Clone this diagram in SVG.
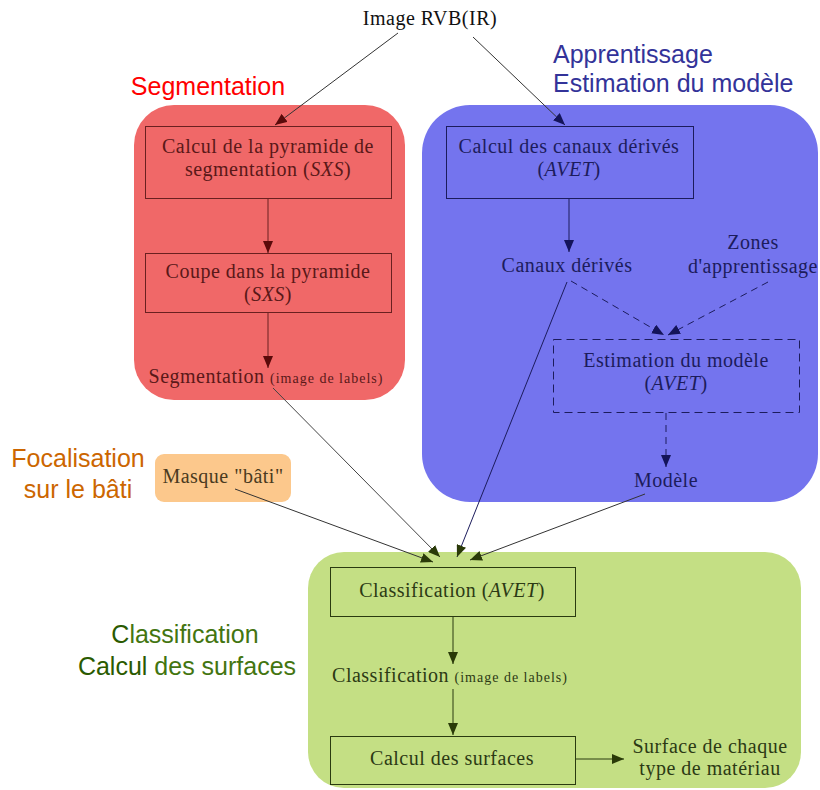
<svg xmlns="http://www.w3.org/2000/svg" width="820" height="790" viewBox="0 0 820 790">
<style>
.t{font-family:"Liberation Serif","Times New Roman",serif;font-size:20px;text-anchor:middle;letter-spacing:0.5px}
.s{font-size:14px;letter-spacing:1px}
.i{font-style:italic}
.h{font-family:"Liberation Sans",Arial,sans-serif;font-size:25px;text-anchor:middle}
.rt{fill:#5a1818}
.bt{fill:#1c1c5c}
.gt{fill:#2c3a14}
.ot{fill:#4a3a20}
.box{fill:none;stroke-width:1}
.ln{fill:none;stroke-width:1}
</style>
<defs>
<marker id="mr" markerUnits="userSpaceOnUse" markerWidth="12" markerHeight="10" refX="12" refY="5" orient="auto"><path d="M0,0 L12,5 L0,10 z" fill="#5a0a0a"/></marker>
<marker id="mb" markerUnits="userSpaceOnUse" markerWidth="12" markerHeight="10" refX="12" refY="5" orient="auto"><path d="M0,0 L12,5 L0,10 z" fill="#14145a"/></marker>
<marker id="mg" markerUnits="userSpaceOnUse" markerWidth="12" markerHeight="10" refX="12" refY="5" orient="auto"><path d="M0,0 L12,5 L0,10 z" fill="#2a3a08"/></marker>
</defs>
<rect width="820" height="790" fill="#ffffff"/>

<g id="region-segmentation">
<rect x="134" y="105" width="271" height="295" rx="40" fill="#f06868"/>
<text class="h" x="208" y="95" fill="#ff0000">Segmentation</text>
</g>
<g id="region-apprentissage">
<rect x="422" y="105" width="396" height="397" rx="48" fill="#7474ee"/>
<text class="h" x="553" y="63" fill="#333399" style="text-anchor:start">Apprentissage</text>
<text class="h" x="553" y="92" fill="#333399" style="text-anchor:start">Estimation du modèle</text>
</g>
<g id="region-focalisation">
<rect x="155" y="454" width="136" height="48" rx="9" fill="#fcc88c"/>
<text class="h" x="78" y="467" fill="#cc6600">Focalisation</text>
<text class="h" x="78" y="498" fill="#cc6600">sur le bâti</text>
</g>
<g id="region-classification">
<rect x="308" y="552" width="493" height="236" rx="36" fill="#c4df84"/>
<text class="h" x="185" y="643" fill="#437510"><tspan fill="#2a5a00">C</tspan>lassification</text>
<text class="h" x="187" y="675" fill="#437510"><tspan fill="#2a5a00">Calcul</tspan> des surfaces</text>
</g>

<g id="node-image">
<text class="t" x="430" y="25" fill="#111111">Image RVB(IR)</text>
</g>
<g id="node-pyramide">
<rect class="box" x="145.5" y="126.5" width="246" height="72" stroke="#6a2020"/>
<text class="t rt" x="268" y="153">Calcul de la pyramide de</text>
<text class="t rt" x="268" y="176">segmentation (<tspan class="i">SXS</tspan>)</text>
</g>
<g id="node-coupe">
<rect class="box" x="145.5" y="253.5" width="246" height="59" stroke="#6a2020"/>
<text class="t rt" x="268" y="278">Coupe dans la pyramide</text>
<text class="t rt" x="268" y="301">(<tspan class="i">SXS</tspan>)</text>
</g>
<g id="node-segmentation">
<text class="t rt" x="266" y="383">Segmentation <tspan class="s">(image de labels)</tspan></text>
</g>
<g id="node-canaux-calc">
<rect class="box" x="446.5" y="126.5" width="247" height="72" stroke="#1c1c5c"/>
<text class="t bt" x="569" y="153">Calcul des canaux dérivés</text>
<text class="t bt" x="569" y="176">(<tspan class="i">AVET</tspan>)</text>
</g>
<g id="node-canaux">
<text class="t bt" x="567" y="272">Canaux dérivés</text>
</g>
<g id="node-zones">
<text class="t bt" x="753" y="249">Zones</text>
<text class="t bt" x="753" y="273">d'apprentissage</text>
</g>
<g id="node-estimation">
<rect class="box" x="553.5" y="339.5" width="246" height="73" stroke="#1c1c5c" stroke-dasharray="8,5"/>
<text class="t bt" x="676" y="367">Estimation du modèle</text>
<text class="t bt" x="676" y="390">(<tspan class="i">AVET</tspan>)</text>
</g>
<g id="node-modele">
<text class="t bt" x="666" y="487">Modèle</text>
</g>
<g id="node-masque">
<text class="t ot" x="223" y="483">Masque "bâti"</text>
</g>
<g id="node-classif-avet">
<rect class="box" x="330.5" y="567.5" width="245" height="49" stroke="#2a3a10"/>
<text class="t gt" x="452" y="597">Classification (<tspan class="i">AVET</tspan>)</text>
</g>
<g id="node-classif-labels">
<text class="t gt" x="450" y="682">Classification <tspan class="s">(image de labels)</tspan></text>
</g>
<g id="node-surfaces">
<rect class="box" x="330.5" y="736.5" width="245" height="48" stroke="#2a3a10"/>
<text class="t gt" x="452" y="765">Calcul des surfaces</text>
</g>
<g id="node-surface-out">
<text class="t gt" x="710" y="753">Surface de chaque</text>
<text class="t gt" x="710" y="775">type de matériau</text>
</g>

<g id="connectors">
<line class="ln" x1="398" y1="33" x2="275" y2="125" stroke="#333333" marker-end="url(#mr)"/>
<line class="ln" x1="473" y1="37" x2="565" y2="125" stroke="#333333" marker-end="url(#mb)"/>
<line class="ln" x1="268" y1="199" x2="268" y2="253" stroke="#6a2020" marker-end="url(#mr)"/>
<line class="ln" x1="268" y1="313" x2="268" y2="368" stroke="#6a2020" marker-end="url(#mr)"/>
<line class="ln" x1="569" y1="199" x2="569" y2="252" stroke="#1c1c5c" marker-end="url(#mb)"/>
<line class="ln" x1="571" y1="281" x2="664" y2="335" stroke="#1c1c5c" stroke-dasharray="7,5" marker-end="url(#mb)"/>
<line class="ln" x1="768" y1="282" x2="668" y2="335" stroke="#1c1c5c" stroke-dasharray="7,5" marker-end="url(#mb)"/>
<line class="ln" x1="666" y1="413" x2="666" y2="467" stroke="#1c1c5c" stroke-dasharray="7,5" marker-end="url(#mb)"/>
<line class="ln" x1="273" y1="388" x2="440" y2="557" stroke="#444444" marker-end="url(#mg)"/>
<line class="ln" x1="235" y1="489" x2="433" y2="562" stroke="#333333" marker-end="url(#mg)"/>
<line class="ln" x1="567" y1="282" x2="457" y2="557" stroke="#1c1c5c" marker-end="url(#mg)"/>
<line class="ln" x1="645" y1="494" x2="470" y2="560" stroke="#333333" marker-end="url(#mg)"/>
<line class="ln" x1="453" y1="617" x2="453" y2="664" stroke="#2a3a10" marker-end="url(#mg)"/>
<line class="ln" x1="453" y1="689" x2="453" y2="735" stroke="#2a3a10" marker-end="url(#mg)"/>
<line class="ln" x1="576" y1="759" x2="624" y2="759" stroke="#2a3a10" marker-end="url(#mg)"/>
</g>
</svg>
